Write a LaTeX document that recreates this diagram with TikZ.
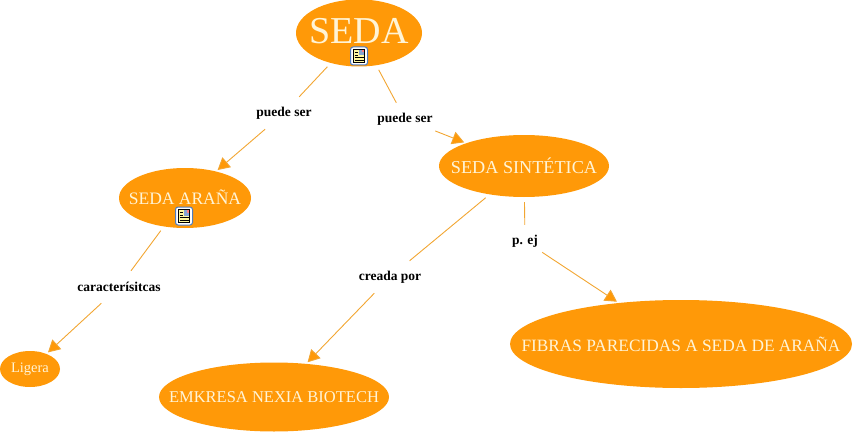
\documentclass[tikz,border=0pt]{standalone}
\usepackage{fontspec}
\setmainfont{Liberation Serif}
\usepackage{xcolor}
\definecolor{cmorange}{RGB}{255, 153, 8}
\definecolor{cmline}{RGB}{242, 166, 50}
\definecolor{cmcream}{RGB}{255, 244, 214}
\definecolor{cmframe}{RGB}{80, 125, 190}
\definecolor{cmpage}{RGB}{255, 248, 160}
\usetikzlibrary{arrows.meta, shapes.geometric}
\tikzset{
  conceptnode/.style={ellipse, fill=cmorange, inner sep=0pt},
  concepttext/.style={text=cmcream, inner sep=0pt},
  linknode/.style={font=\fontsize{13.5}{15}\selectfont\bfseries, text=black, inner sep=2pt, minimum height=32pt, minimum width=60pt},
  linkline/.style={cmline, line width=0.9pt, shorten <=5pt},
  linkarrow/.style={cmline, line width=0.9pt, shorten >=2pt, -{Triangle[length=12pt, width=13pt, fill=cmorange]}},
  docicon/.pic={
    \draw[cmframe, fill=white, line width=1pt, rounded corners=2.5pt] (-8.5,-9) rectangle (8.5,9);
    \fill[cmpage] (-5.5,-6.5) rectangle (5.5,6.5);
    \draw[black, line width=0.6pt] (-5.5,-6.5) rectangle (5.5,6.5);
    \fill[cmframe!70] (0,-6) rectangle (5,-0.5);
    \fill[red!50] (2.5,-6) rectangle (5,-3.5);
    \draw[black, line width=0.6pt] (-4.5,-3.5) -- (-1,-3.5) (-4.5,-1) -- (-1,-1) (-4.5,1.5) -- (4.5,1.5) (-4.5,4) -- (4.5,4);
  }
}
\begin{document}
\begin{tikzpicture}[x=1pt, y=-1pt]
  \useasboundingbox (0,0) rectangle (853,433);
  % Concepts
  \node[conceptnode, minimum width=126pt, minimum height=67pt,
    label={[concepttext, font=\fontsize{38}{42}\selectfont, yshift=2pt]center:SEDA}] (seda) at (359,33) {};
  \node[conceptnode, minimum width=132pt, minimum height=60pt,
    label={[concepttext, font=\fontsize{17.5}{19}\selectfont, yshift=1pt]center:SEDA ARAÑA}] (aranya) at (185,198) {};
  \node[conceptnode, minimum width=170pt, minimum height=62pt,
    label={[concepttext, font=\fontsize{18.2}{20}\selectfont]center:SEDA SINTÉTICA}] (sintetica) at (524,166) {};
  \node[conceptnode, minimum width=60pt, minimum height=36pt,
    label={[concepttext, font=\fontsize{14.5}{16}\selectfont]center:Ligera}] (ligera) at (30,369) {};
  \node[conceptnode, minimum width=230pt, minimum height=69pt,
    label={[concepttext, font=\fontsize{16.5}{19}\selectfont]center:EMKRESA NEXIA BIOTECH}] (nexia) at (274,397) {};
  \node[conceptnode, minimum width=342pt, minimum height=88pt,
    label={[concepttext, font=\fontsize{17.3}{19}\selectfont]center:FIBRAS PARECIDAS A SEDA DE ARAÑA}] (fibras) at (681,344) {};
  % Icons
  \pic at (359,56) {docicon};
  \pic at (184,216) {docicon};
  % Linking phrases
  \node[linknode] (puedeizq) at (284,113) {puede ser};
  \node[linknode] (puededer) at (405,119) {puede ser};
  \node[linknode] (caract) at (119,287) {caracterísitcas};
  \node[linknode] (creada) at (390,277) {creada por};
  \node[linknode, minimum width=34pt] (pej) at (525,241) {p. ej};
  % Connectors
  \draw[linkline] (seda) -- (puedeizq);
  \draw[linkline] (seda) -- (puededer);
  \draw[linkarrow] (puedeizq) -- (aranya);
  \draw[linkarrow] (puededer) -- (sintetica);
  \draw[linkline] (aranya) -- (caract);
  \draw[linkarrow] (caract) -- (ligera);
  \draw[linkline] (sintetica) -- (creada);
  \draw[linkarrow] (creada) -- (nexia);
  \draw[linkline] (sintetica) -- (pej);
  \draw[linkarrow] (pej) -- (fibras);
\end{tikzpicture}
\end{document}
